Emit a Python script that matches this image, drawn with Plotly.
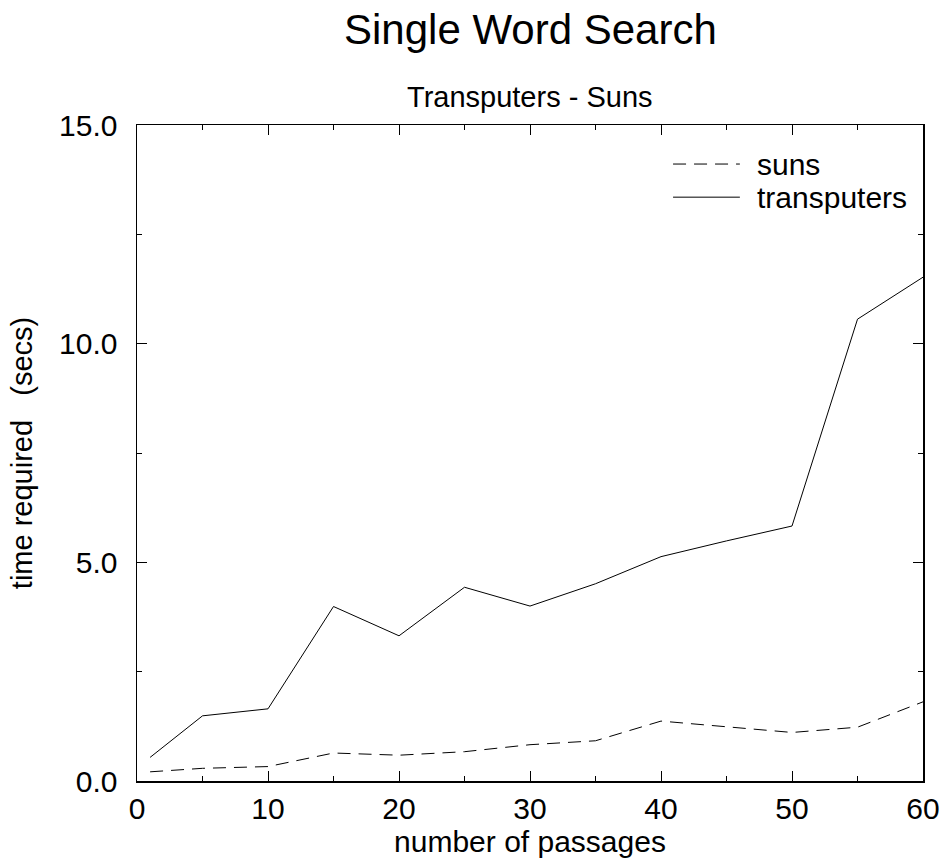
import plotly.graph_objects as go

passages = [1, 5, 10, 15, 20, 25, 30, 35, 40, 45, 50, 55, 60]
suns = [0.21, 0.29, 0.33, 0.64, 0.59, 0.67, 0.83, 0.92, 1.37, 1.24, 1.11, 1.23, 1.81]
transputers = [0.54, 1.49, 1.65, 3.99, 3.32, 4.43, 4.0, 4.51, 5.13, 5.49, 5.83, 10.56, 11.52]

series_names = ["suns", "transputers"]
y_ticks = [0, 5, 10, 15]
x_ticks = [0, 10, 20, 30, 40, 50, 60]

FONT = "Liberation Sans, Arial, sans-serif"
DASH = "13px,8px"

fig = go.Figure()
fig.add_trace(go.Scatter(x=passages, y=suns, mode="lines", name=series_names[0],
                         showlegend=False,
                         line=dict(color="black", width=1, dash=DASH)))
fig.add_trace(go.Scatter(x=passages, y=transputers, mode="lines", name=series_names[1],
                         showlegend=False,
                         line=dict(color="black", width=1)))

# legend drawn as keys inside the plot frame (paper coordinates)
legend_y = [0.9405, 0.890]
legend_dash = [DASH, "solid"]
shapes = []
annotations = []
for name, ly, dsh in zip(series_names, legend_y, legend_dash):
    shapes.append(dict(type="line", xref="paper", yref="paper",
                       x0=0.682, x1=0.767, y0=ly, y1=ly,
                       line=dict(color="black", width=1, dash=dsh)))
    annotations.append(dict(text=name, xref="paper", yref="paper", x=0.786, y=ly,
                            xanchor="left", yanchor="middle", showarrow=False,
                            font=dict(size=30)))

annotations.append(dict(text="Single Word Search", x=0.5, y=1, xref="paper", yref="paper",
                        xanchor="center", yanchor="middle", yshift=96,
                        showarrow=False, font=dict(size=42)))
annotations.append(dict(text="Transputers - Suns", x=0.5, y=1, xref="paper", yref="paper",
                        xanchor="center", yanchor="middle", yshift=28,
                        showarrow=False, font=dict(size=29)))

fig.update_layout(
    template="none",
    width=943, height=863,
    margin=dict(l=137, r=20, t=125, b=82, autoexpand=False),
    paper_bgcolor="white", plot_bgcolor="white",
    font=dict(family=FONT, color="black", size=30),
    showlegend=False,
    hovermode=False,
    shapes=shapes,
    annotations=annotations,
)

fig.update_xaxes(
    range=[0, 60], tickvals=x_ticks, ticktext=[str(v) for v in x_ticks],
    ticks="inside", ticklen=10, tickwidth=1, tickcolor="black",
    minor=dict(dtick=5, tick0=0, ticks="inside", ticklen=5, tickcolor="black", tickwidth=1, showgrid=False),
    showline=True, linecolor="black", linewidth=1.5, mirror="ticks",
    showgrid=False, zeroline=False, automargin=False,
    tickfont=dict(size=30),
    title=dict(text="number of passages", font=dict(size=30), standoff=6),
)
fig.update_yaxes(
    range=[0, 15], tickvals=y_ticks, ticktext=[f"{v:.1f}" for v in y_ticks],
    ticks="inside", ticklen=10, tickwidth=1, tickcolor="black",
    minor=dict(dtick=2.5, tick0=0, ticks="inside", ticklen=5, tickcolor="black", tickwidth=1, showgrid=False),
    showline=True, linecolor="black", linewidth=1.5, mirror="ticks",
    showgrid=False, zeroline=False, automargin=False,
    tickfont=dict(size=30), ticklabelstandoff=12,
    title=dict(text="time required   (secs)", font=dict(size=29), standoff=18),
)

fig.write_html("out.html", config={"displayModeBar": False, "staticPlot": True},
               post_script="document.body.style.margin='0';document.body.style.overflow='hidden';")
